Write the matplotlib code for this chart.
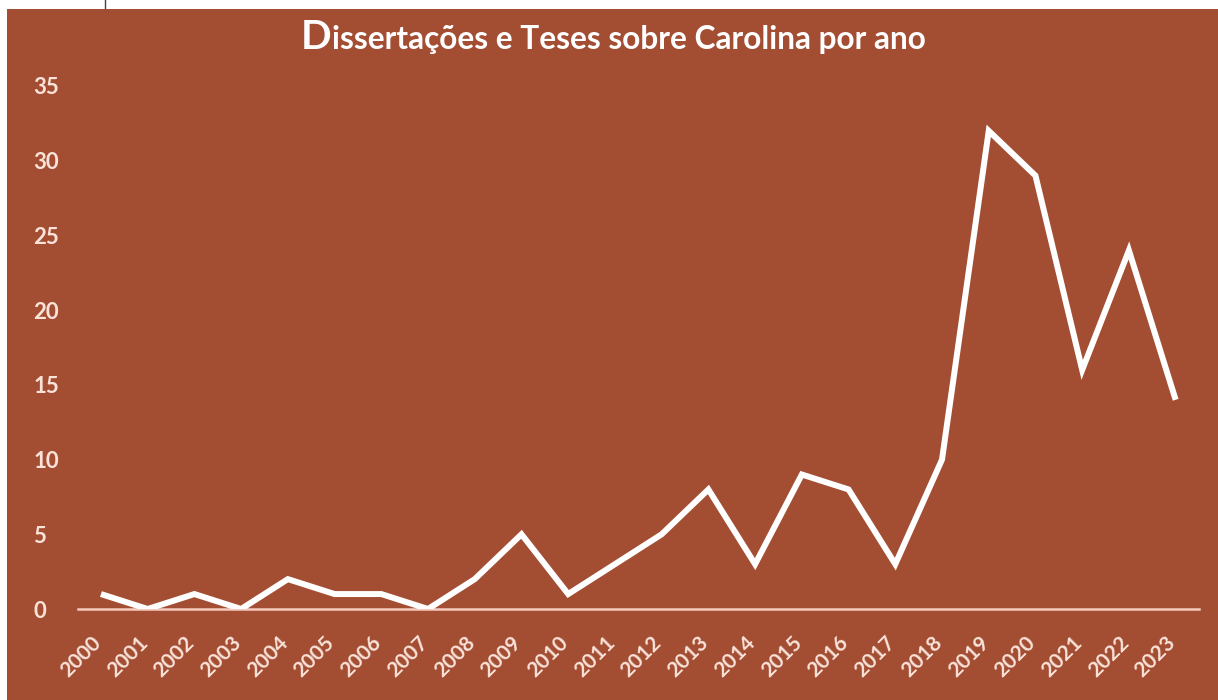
import matplotlib
matplotlib.use("Agg")
import matplotlib.pyplot as plt
import matplotlib.transforms as mtransforms
from matplotlib.patches import Rectangle
from matplotlib.lines import Line2D

years = [str(y) for y in range(2000, 2024)]
counts = [1, 0, 1, 0, 2, 1, 1, 0, 2, 5, 1, 3, 5, 8, 3, 9, 8, 3, 10, 32, 29, 16, 24, 14]
yticks = [0, 5, 10, 15, 20, 25, 30, 35]
title_first = "D"
title_rest = "issertações e Teses sobre Carolina por ano"

BG = "#A34E33"
TXT = "#FBE3DA"
FONT = "Lato"

W, H = 1218, 700
fig = plt.figure(figsize=(W / 100, H / 100), dpi=100)
fig.patch.set_facecolor("white")
fig.patches.append(Rectangle((7 / W, 0), 1 - 7 / W, 1 - 9 / H, transform=fig.transFigure,
                             facecolor=BG, edgecolor="none", zorder=-5))
fig.lines.append(Line2D([105 / W, 105 / W], [1 - 8 / H, 1], transform=fig.transFigure,
                        color="#444444", lw=1))

ax = fig.add_axes([77.6 / W, 91 / H, (1199 - 77.6) / W, 523 / H])
ax.set_zorder(2)
ax.set_facecolor("none")
x = list(range(len(years)))
ax.plot(x, counts, color="white", lw=4.3, solid_joinstyle="miter", solid_capstyle="butt", zorder=3)
ax.set_xlim(-0.5, len(years) - 0.5)
ax.set_ylim(0, 35)
for s in ["top", "right", "left"]:
    ax.spines[s].set_visible(False)
ax.spines["bottom"].set_color("#F6CBBE")
ax.spines["bottom"].set_linewidth(1.8)
ax.set_yticks(yticks)
ax.set_yticklabels([str(v) for v in yticks], fontfamily=FONT, fontweight="bold",
                   fontsize=16, color=TXT, ha="left")
ax.tick_params(axis="y", length=0, pad=32)
ax.set_xticks(x)
ax.set_xticklabels(years, rotation=45, ha="right", va="center", rotation_mode="anchor",
                   fontfamily=FONT, fontweight="bold", fontsize=15, color=TXT)
ax.tick_params(axis="x", length=0, pad=22)
off = mtransforms.ScaledTranslation(-3 / 100, 0, fig.dpi_scale_trans)
for lab in ax.get_xticklabels():
    lab.set_transform(lab.get_transform() + off)

# Title with enlarged first letter
fig.canvas.draw()
r = fig.canvas.get_renderer()
t1 = fig.text(0, 0, title_first, fontfamily=FONT, fontweight="bold", fontsize=29, color="white")
t2 = fig.text(0, 0, title_rest, fontfamily=FONT, fontweight="bold", fontsize=22.8, color="white")
w1 = t1.get_window_extent(r).width
w2 = t2.get_window_extent(r).width
total = w1 + w2
cx = 613
x0 = cx - total / 2
yb = H - 49
t1.set_position((x0 / W, yb / H))
t2.set_position(((x0 + w1 + 1) / W, yb / H))

fig.savefig("out.png", dpi=100, facecolor=fig.get_facecolor())
